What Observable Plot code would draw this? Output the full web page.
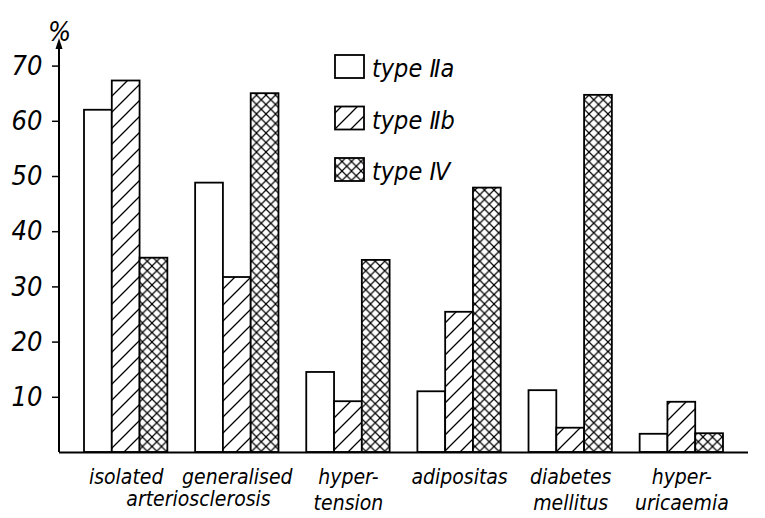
<!DOCTYPE html>
<html><head><meta charset="utf-8">
<script src="https://cdn.jsdelivr.net/npm/d3@7"></script>
<script src="https://cdn.jsdelivr.net/npm/@observablehq/plot@0.6"></script>
<style>
body{margin:0;background:#fff;}
</style></head><body><div id="chart"></div>
<script>
const categories = ["isolated arteriosclerosis","generalised arteriosclerosis","hypertension","adipositas","diabetes mellitus","hyperuricaemia"];
const labelLine1 = ["isolated","generalised","hyper-","adipositas","diabetes","hyper-"];
const labelLine2 = ["","","tension","","mellitus","uricaemia"];
const sharedLabel = "arteriosclerosis";
const series = ["type Ⅱa","type Ⅱb","type Ⅳ"];
const typeIIa = [62, 48.8, 14.5, 11, 11.2, 3.3];
const typeIIb = [67.3, 31.7, 9.2, 25.4, 4.4, 9.1];
const typeIV  = [35.2, 65, 34.8, 47.9, 64.7, 3.4];
const yTicks = [10, 20, 30, 40, 50, 60, 70];
const fills = ["white", "url(#hatch)", "url(#cross)"];

const valuesBySeries = [typeIIa, typeIIb, typeIV];
const keyOf = (c, s) => c + "|" + s;
const rows = categories.flatMap((c, i) => series.map((s, j) => ({category: c, series: s, value: valuesBySeries[j][i], key: keyOf(c, s)})));
const xDomain = categories.flatMap((c, i) => [...series.map(s => keyOf(c, s)), ...(i < categories.length - 1 ? ["gap" + i] : [])]);

const FONT = "'DejaVu Sans Condensed','DejaVu Sans',sans-serif";
const NARROW = "'Liberation Sans Narrow','DejaVu Sans Condensed',sans-serif";

const defs = () => {
  const d = d3.create("svg:defs");
  const h = d.append("pattern").attr("id", "hatch").attr("patternUnits", "userSpaceOnUse").attr("width", 16).attr("height", 16);
  h.append("rect").attr("width", 16).attr("height", 16).attr("fill", "white");
  h.append("path").attr("d", "M0,16L16,0M-4,4L4,-4M12,20L20,12").attr("stroke", "black").attr("stroke-width", 1.3);
  const c = d.append("pattern").attr("id", "cross").attr("patternUnits", "userSpaceOnUse").attr("width", 9.5).attr("height", 9.5);
  c.append("rect").attr("width", 9.5).attr("height", 9.5).attr("fill", "white");
  c.append("path").attr("d", "M0,0L9.5,9.5M9.5,0L0,9.5").attr("stroke", "black").attr("stroke-width", 1.2);
  return d.node();
};

const yAxisLine = (index, scales, values, dims) => {
  const x0 = dims.marginLeft;
  const yTop = scales.y(75), yBot = scales.y(0);
  const g = d3.create("svg:g");
  g.append("line").attr("x1", x0).attr("x2", x0).attr("y1", yBot).attr("y2", yTop + 8).attr("stroke", "black").attr("stroke-width", 2);
  g.append("path").attr("d", `M${x0},${yTop}L${x0 - 3.5},${yTop + 11}L${x0 + 3.5},${yTop + 11}Z`).attr("fill", "black");
  return g.node();
};

const legend = (index, scales, values, dims) => {
  const g = d3.create("svg:g");
  const left = 335, top0 = 55, rowStep = 51.5, bw = 29, bh = 23;
  series.forEach((s, i) => {
    const top = top0 + i * rowStep;
    g.append("rect").attr("x", left).attr("y", top).attr("width", bw).attr("height", bh)
      .attr("fill", fills[i]).attr("stroke", "black").attr("stroke-width", 1.8);
    g.append("text").attr("x", left + bw + 8).attr("y", top + bh - 1).attr("text-anchor", "start")
      .attr("font-size", 25).attr("font-family", FONT).attr("font-style", "italic").attr("fill", "black").text(s);
  });
  return g.node();
};

const chart = Plot.plot({
  width: 765,
  height: 518,
  marginLeft: 59,
  marginRight: 17,
  marginTop: 38,
  marginBottom: 66,
  style: {fontFamily: FONT, fontStyle: "italic", background: "white", color: "black"},
  x: {type: "band", domain: xDomain, paddingInner: 0, paddingOuter: 0.9, round: false, axis: null},
  y: {domain: [0, 75]},
  color: {domain: series, range: fills},
  marks: [
    defs,
    Plot.barY(rows, {x: "key", y: "value", fill: "series", stroke: "black", strokeWidth: 1.8}),
    Plot.ruleY([0], {stroke: "black", strokeWidth: 2}),
    yAxisLine,
    Plot.axisY(yTicks, {tickSize: 7, tickPadding: 10, fontSize: 27, fontFamily: NARROW, fontStyle: "italic", label: null, stroke: "black", strokeWidth: 1.5}),
    Plot.text(["%"], {frameAnchor: "top-left", dy: -17, fontSize: 27, fontFamily: NARROW, textAnchor: "middle"}),
    Plot.text(categories, {x: c => keyOf(c, series[1]), text: (c, i) => labelLine2[i] ? labelLine1[i] + "\n" + labelLine2[i] : labelLine1[i],
      frameAnchor: "bottom", lineAnchor: "top", dy: 14, lineHeight: 1.2, fontSize: 21}),
    Plot.text([sharedLabel], {x: () => keyOf(categories[1], series[0]), frameAnchor: "bottom", lineAnchor: "top", dy: 14 + 25, dx: -11, fontSize: 21}),
    legend
  ]
});
document.getElementById("chart").appendChild(chart);
</script></body></html>
